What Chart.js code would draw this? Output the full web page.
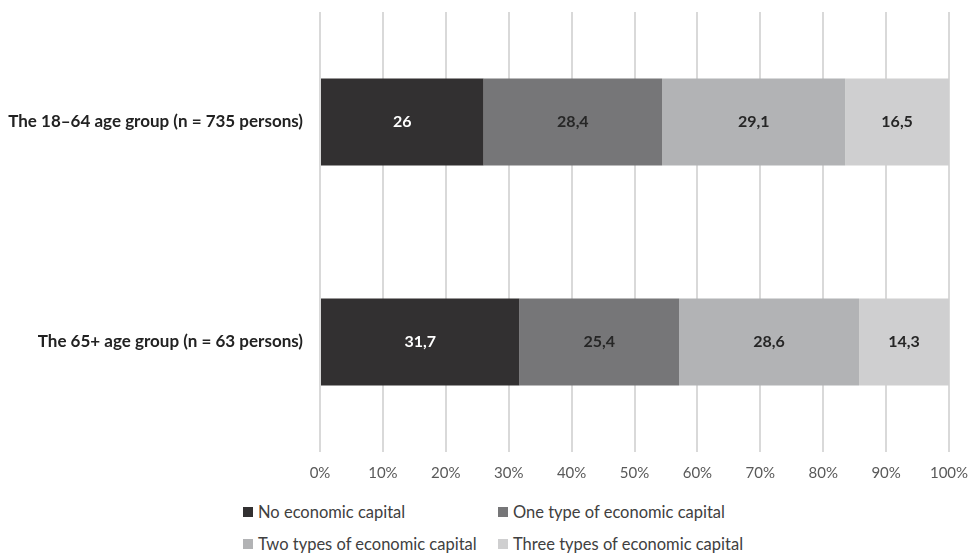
<!DOCTYPE html>
<html>
<head>
<meta charset="utf-8">
<script src="https://cdn.jsdelivr.net/npm/chart.js@4.4.1/dist/chart.umd.min.js"></script>
<style>
  html, body { margin: 0; padding: 0; background: #fff; }
  #wrap { position: relative; width: 971px; height: 553px; }
  #chartBox { position: absolute; left: 0; top: 0; width: 971px; height: 495px; }
  #legend { position: absolute; left: 243px; top: 502px; width: 600px;
    font-family: Lato, "Open Sans", sans-serif; font-size: 16.5px; color: #404040; }
  .item { position: absolute; white-space: nowrap; display: flex; align-items: center; }
  .box { width: 10px; height: 10px; margin-right: 5px; }
</style>
</head>
<body>
<div id="wrap">
  <div id="chartBox"><canvas id="chart"></canvas></div>
  <div id="legend"></div>
</div>
<script>
const groups = ['The 18\u201364 age group (n = 735 persons)', 'The 65+ age group (n = 63 persons)'];
const seriesNames = ['No economic capital', 'One type of economic capital',
  'Two types of economic capital', 'Three types of economic capital'];
const noCapital = [26, 31.7];
const oneType = [28.4, 25.4];
const twoTypes = [29.1, 28.6];
const threeTypes = [16.5, 14.3];
const seriesColors = ['#323031', '#767678', '#b2b3b5', '#cfcfd0'];
const labelColors = ['#ffffff', '#262626', '#262626', '#262626'];

const allValues = [noCapital, oneType, twoTypes, threeTypes];

// draws the numbers inside each bar segment (comma as decimal sign)
const barLabels = {
  id: 'barLabels',
  afterDatasetsDraw(chart) {
    const ctx = chart.ctx;
    ctx.save();
    ctx.font = 'bold 16px Lato, "Open Sans", sans-serif';
    ctx.textAlign = 'center';
    ctx.textBaseline = 'middle';
    chart.data.datasets.forEach((ds, i) => {
      chart.getDatasetMeta(i).data.forEach((bar, j) => {
        const txt = String(ds.data[j]).replace('.', ',');
        const x = (bar.x + bar.base) / 2;
        ctx.fillStyle = labelColors[i];
        ctx.fillText(txt, x, bar.y);
      });
    });
    ctx.restore();
  }
};

new Chart(document.getElementById('chart'), {
  type: 'bar',
  data: {
    labels: groups,
    datasets: allValues.map((vals, i) => ({
      label: seriesNames[i],
      data: vals,
      backgroundColor: seriesColors[i],
      borderWidth: 0,
      barPercentage: 0.79,
      categoryPercentage: 0.5
    }))
  },
  options: {
    indexAxis: 'y',
    responsive: true,
    maintainAspectRatio: false,
    animation: false,
    layout: { padding: { top: 12, right: 22, bottom: 0, left: 0 } },
    plugins: { legend: { display: false }, tooltip: { enabled: false } },
    scales: {
      x: {
        stacked: true,
        min: 0,
        max: 100,
        afterFit: (scale) => {
          scale.height = 43;
          scale.paddingLeft = 0;
          scale.paddingRight = 0;
        },
        border: { display: false },
        grid: { color: '#d9d9d9', lineWidth: 2, drawTicks: false },
        ticks: {
          stepSize: 10,
          padding: 12,
          color: '#595959',
          font: { family: 'Lato, "Open Sans", sans-serif', size: 15 },
          callback: (v) => v + '%'
        }
      },
      y: {
        stacked: true,
        afterFit: (scale) => {
          scale.width = 320;
          scale.paddingTop = 0;
          scale.paddingBottom = 0;
        },
        border: { display: false },
        grid: { display: false },
        ticks: {
          padding: 9,
          color: '#222222',
          font: { family: 'Lato, "Open Sans", sans-serif', size: 17, weight: 'bold' }
        }
      }
    }
  },
  plugins: [barLabels]
});

// legend laid out in two aligned columns
const legend = document.getElementById('legend');
seriesNames.forEach((name, i) => {
  const item = document.createElement('div');
  item.className = 'item';
  item.style.left = (i % 2 === 0 ? 0 : 255) + 'px';
  item.style.top = (i < 2 ? 0 : 32) + 'px';
  const box = document.createElement('span');
  box.className = 'box';
  box.style.background = seriesColors[i];
  const txt = document.createElement('span');
  txt.textContent = name;
  item.appendChild(box);
  item.appendChild(txt);
  legend.appendChild(item);
});
</script>
</body>
</html>
